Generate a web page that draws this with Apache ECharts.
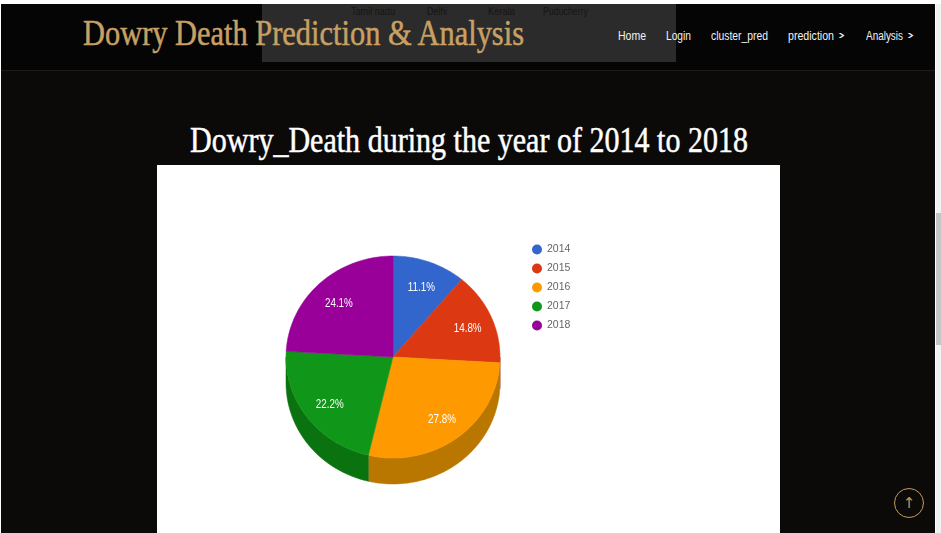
<!DOCTYPE html>
<html lang="en">
<head>
<meta charset="utf-8">
<title>Dowry Death Prediction &amp; Analysis</title>
<script src="https://cdn.jsdelivr.net/npm/echarts@6/dist/echarts.min.js"></script>
<style>
  html, body { margin: 0; padding: 0; width: 941px; height: 533px; overflow: hidden; background: #fff; }
  #page { position: absolute; left: 1px; top: 4px; width: 934px; height: 529px; background: #0b0a09; overflow: hidden; }
  #topbar { position: absolute; left: 0; top: 0; width: 934px; height: 66px; background: #050505; border-bottom: 1px solid #1d1c1b; }
  #overlay { position: absolute; left: 261px; top: 0; width: 414px; height: 58px; background: #2b2b2b; }
  .fit { position: absolute; white-space: nowrap; transform-origin: 0 50%; line-height: 1; }
  .serif { font-family: "Liberation Serif", "DejaVu Serif", serif; -webkit-text-stroke: 0.5px currentColor; }
  .nav { font-family: "Liberation Sans", sans-serif; font-size: 12px; color: #f2f2f2; }
  .state { font-family: "Liberation Sans", sans-serif; font-size: 10px; color: #151515; }
  #chart { position: absolute; left: 157px; top: 165px; width: 623px; height: 368px; background: #fff; }
  #track { position: absolute; left: 936px; top: 4px; width: 5px; height: 529px; background: #f1f1f1; }
  #thumb { position: absolute; left: 936px; top: 213px; width: 5px; height: 132px; background: #c4c4c4; }
  #totop { position: absolute; left: 894px; top: 488px; width: 28px; height: 28px; border: 1.5px solid #c39a5a; border-radius: 50%; box-sizing: content-box; }
  #totop span { position: absolute; left: 0; top: 5px; width: 28px; text-align: center; color: #c39a5a; font: 15px "DejaVu Sans", sans-serif; line-height: 18px; }
</style>
</head>
<body>
<div id="page">
  <div id="topbar"></div>
  <div id="overlay"></div>
</div>
<div class="fit state" data-x="351" data-y="12" data-w="44">Tamil nadu</div>
<div class="fit state" data-x="427" data-y="12" data-w="20">Delhi</div>
<div class="fit state" data-x="488" data-y="12" data-w="27">Kerala</div>
<div class="fit state" data-x="543" data-y="12" data-w="45">Puducherry</div>
<div class="fit serif" style="font-size:35px;color:#c8a063" data-x="83" data-y="33" data-w="441">Dowry Death Prediction &amp; Analysis</div>
<div class="fit nav" data-x="618" data-y="36" data-w="28">Home</div>
<div class="fit nav" data-x="666" data-y="36" data-w="25">Login</div>
<div class="fit nav" data-x="711" data-y="36" data-w="57">cluster_pred</div>
<div class="fit nav" data-x="788" data-y="36" data-w="46">prediction</div>
<div class="fit nav" data-x="838" data-y="35" data-w="7">&#x203A;</div>
<div class="fit nav" data-x="866" data-y="36" data-w="37">Analysis</div>
<div class="fit nav" data-x="907" data-y="35" data-w="7">&#x203A;</div>
<div class="fit serif" style="font-size:36px;color:#fff" data-x="190" data-y="140" data-w="558">Dowry_Death during the year of 2014 to 2018</div>
<div id="chart"></div>
<div id="track"></div>
<div id="thumb"></div>
<div id="totop"><span>&#x2191;</span></div>

<script>
// Yearly share of dowry death cases, in percent
const years = ['2014', '2015', '2016', '2017', '2018'];
const shares = [11.1, 14.8, 27.8, 22.2, 24.1];
const faceColors = ['#3366cc', '#dc3912', '#ff9900', '#109618', '#990099'];
const sideColors = ['#24478f', '#9a280d', '#b97700', '#0b7210', '#6b006b'];

// Tilted pie geometry: an ellipse for the top face plus a visible rim below it
const PIE = { cx: 236, cy: 192, rx: 107, ry: 101, depth: 26, labelAt: 0.75, labelDrop: 2 };

// Horizontal squeeze applied to header and nav text so each string fills its slot
document.querySelectorAll('.fit').forEach(function (el) {
  el.style.left = el.dataset.x + 'px';
  el.style.top = '0px';
  const box = el.getBoundingClientRect();
  el.style.top = (Number(el.dataset.y) - box.height / 2) + 'px';
  el.style.transform = 'scaleX(' + (Number(el.dataset.w) / box.width) + ')';
});

function onRim(deg, drop) {
  const a = deg * Math.PI / 180;
  return [PIE.cx + PIE.rx * Math.sin(a), PIE.cy - PIE.ry * Math.cos(a) + drop];
}

function arc(from, to, drop) {
  const pts = [];
  const steps = Math.max(2, Math.ceil(Math.abs(to - from)));
  for (let i = 0; i <= steps; i++) {
    pts.push(onRim(from + (to - from) * i / steps, drop));
  }
  return pts;
}

function renderSlice(params, api) {
  const idx = params.seriesIndex;
  const total = shares.reduce(function (s, v) { return s + v; }, 0);
  const before = shares.slice(0, idx).reduce(function (s, v) { return s + v; }, 0);
  const start = before / total * 360;
  const end = start + api.value(0) / total * 360;
  const children = [];

  // Rim is only seen along the front half of the pie (90 to 270 degrees clockwise from north)
  const rimFrom = Math.max(start, 90);
  const rimTo = Math.min(end, 270);
  if (rimTo > rimFrom) {
    children.push({
      type: 'polygon',
      shape: { points: arc(rimFrom, rimTo, 0).concat(arc(rimTo, rimFrom, PIE.depth)) },
      style: { fill: sideColors[idx], stroke: sideColors[idx], lineWidth: 0.5 }
    });
  }

  children.push({
    type: 'polygon',
    shape: { points: [[PIE.cx, PIE.cy]].concat(arc(start, end, 0)) },
    style: { fill: faceColors[idx], stroke: faceColors[idx], lineWidth: 0.5 }
  });

  const mid = (start + end) / 2 * Math.PI / 180;
  children.push({
    type: 'text',
    x: PIE.cx + PIE.rx * PIE.labelAt * Math.sin(mid) + 1,
    y: PIE.cy - PIE.ry * PIE.labelAt * Math.cos(mid) + PIE.labelDrop,
    scaleX: 0.82,
    style: {
      text: api.value(0).toFixed(1) + '%',
      fill: '#fff',
      font: '12px "Liberation Sans", Arial, sans-serif',
      align: 'center',
      verticalAlign: 'middle'
    }
  });

  return { type: 'group', children: children };
}

const chart = echarts.init(document.getElementById('chart'), null, { renderer: 'canvas' });
chart.setOption({
  animation: false,
  backgroundColor: '#ffffff',
  legend: {
    orient: 'vertical',
    left: 370,
    top: 74,
    icon: 'circle',
    itemWidth: 10,
    itemHeight: 11,
    itemGap: 8,
    data: years,
    textStyle: { color: '#666', fontSize: 10.5, fontFamily: '"Liberation Sans", Arial, sans-serif' }
  },
  series: years.map(function (year, i) {
    return {
      type: 'custom',
      name: year,
      coordinateSystem: 'none',
      renderItem: renderSlice,
      itemStyle: { color: faceColors[i] },
      data: [[shares[i]]]
    };
  })
});
</script>
</body>
</html>
